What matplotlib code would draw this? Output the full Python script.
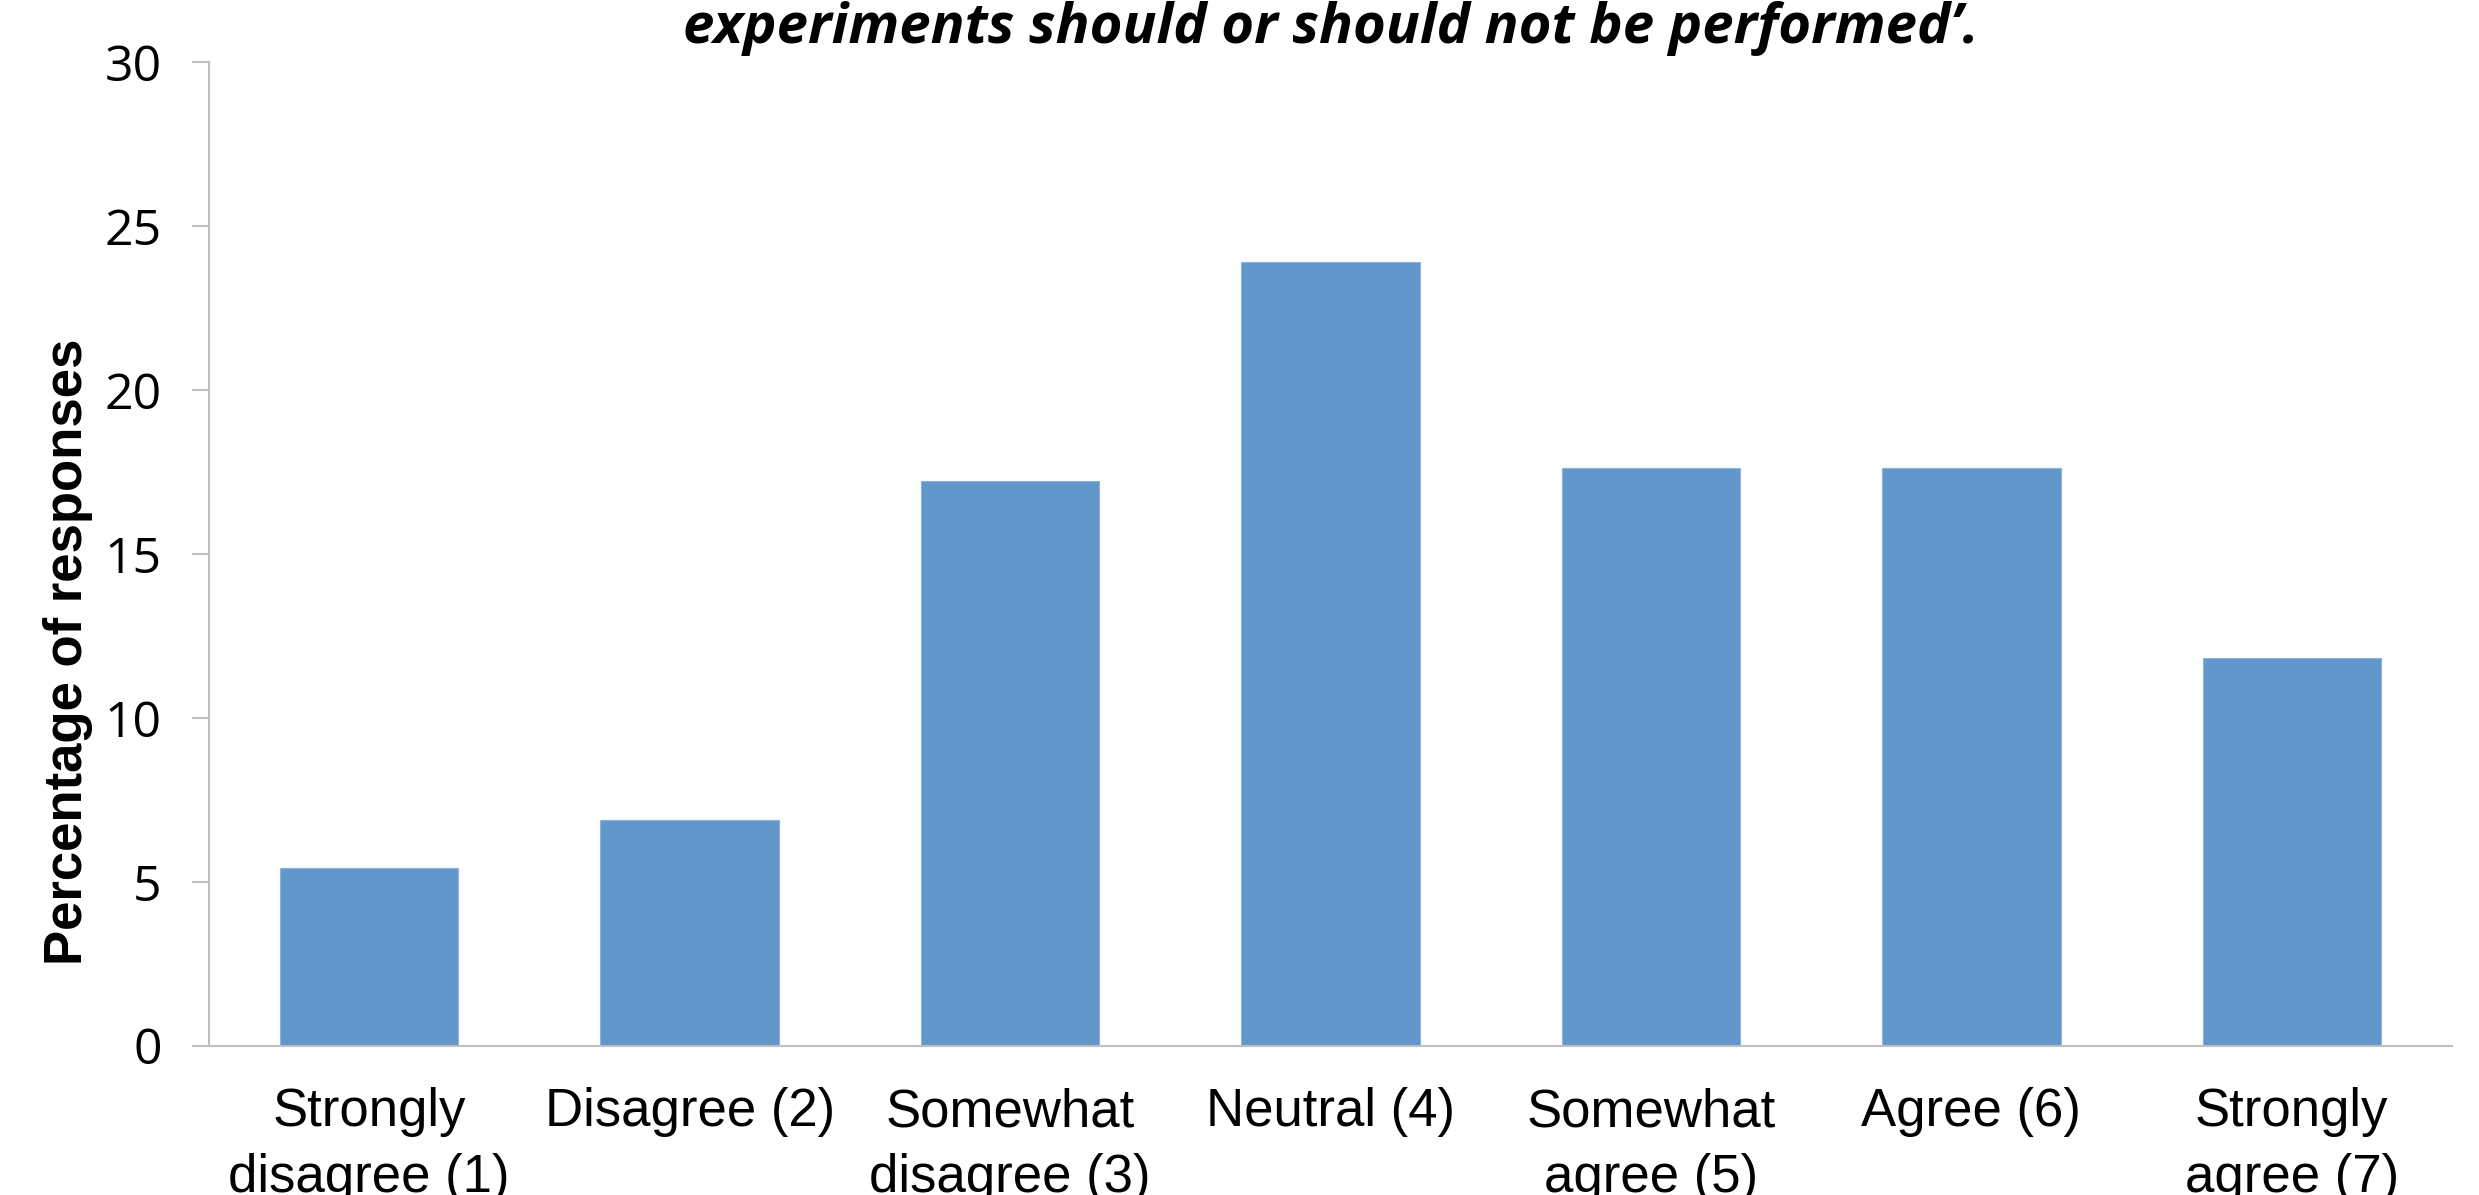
import matplotlib.pyplot as plt

# Survey responses (percent of responses)
categories = ['Strongly\ndisagree (1)', 'Disagree (2)', 'Somewhat\ndisagree (3)', 'Neutral (4)',
              'Somewhat\nagree (5)', 'Agree (6)', 'Strongly\nagree (7)']
percentages = [5.41, 6.88, 17.23, 23.91, 17.61, 17.61, 11.82]
y_ticks = [0, 5, 10, 15, 20, 25, 30]

bar_color = '#6197CA'
axis_color = '#BFBFBF'

fig = plt.figure(figsize=(24.79, 11.95), dpi=100)
ax = fig.add_axes([0.0843, 0.1249, 0.9048, 0.8234])

x = range(len(categories))
ax.bar(x, percentages, width=0.557, color=bar_color, edgecolor='#8DB3DD', linewidth=0.8)

ax.set_xlim(-0.5, len(categories) - 0.5)
ax.set_ylim(0, 30)
ax.set_yticks(y_ticks)
ax.set_yticklabels([str(t) for t in y_ticks], fontfamily='Open Sans', fontsize=36)
ax.set_xticks(list(x))
ax.set_xticklabels(categories, fontfamily='Liberation Sans', fontsize=38, linespacing=1.4)

ax.tick_params(axis='y', length=12, width=1.5, color=axis_color, pad=22)
ax.tick_params(axis='x', length=0, pad=30)

for side in ['top', 'right']:
    ax.spines[side].set_visible(False)
for side in ['left', 'bottom']:
    ax.spines[side].set_color(axis_color)
    ax.spines[side].set_linewidth(1.5)

# y label placed where it sits in the original
fig.text(68 / 2479, 1 - 652 / 1195, 'Percentage of responses', rotation=90,
         fontfamily='Liberation Sans', fontweight='bold', fontsize=38,
         ha='center', va='center')

# title (first line is cropped off in the source image)
fig.text(1331 / 2479, 1 - 43 / 1195, 'experiments should or should not be performed\u2019.',
         fontfamily='Open Sans', fontweight='bold', fontstyle='italic', fontsize=40.5,
         ha='center', va='baseline')

fig.savefig('out.png', dpi=100)
